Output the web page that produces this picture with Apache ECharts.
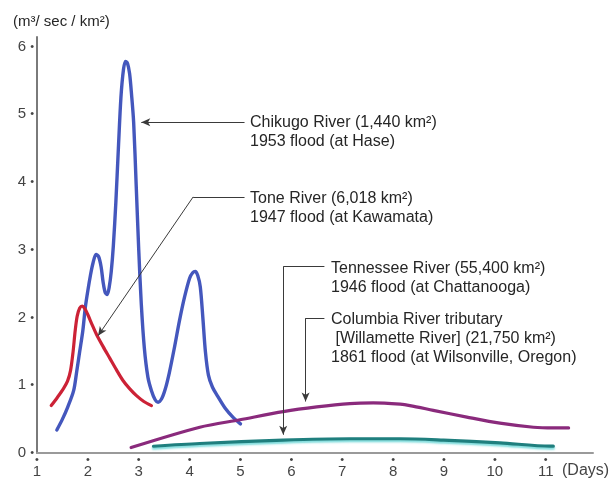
<!DOCTYPE html>
<html>
<head>
<meta charset="utf-8">
<script src="https://cdn.jsdelivr.net/npm/echarts@6/dist/echarts.min.js"></script>
<style>
  html, body { margin: 0; padding: 0; background: #ffffff; }
  #chart { width: 610px; height: 479px; }
</style>
</head>
<body>
<div id="chart"></div>
<script>
// Specific discharge (m³/sec/km²) against elapsed days for four floods.

// Chikugo River (1,440 km²), 1953 flood at Hase
const chikugoDays = [1.39, 1.50, 1.60, 1.72, 1.78, 1.84, 1.90, 1.95, 2.00, 2.05, 2.10, 2.16, 2.21, 2.26, 2.30, 2.34, 2.38, 2.42, 2.46, 2.50, 2.55, 2.60, 2.65, 2.70, 2.74, 2.78, 2.82, 2.86, 2.90, 2.95, 3.00, 3.05, 3.11, 3.18, 3.25, 3.32, 3.38, 3.45, 3.52, 3.60, 3.70, 3.80, 3.90, 4.00, 4.06, 4.11, 4.16, 4.21, 4.26, 4.31, 4.37, 4.45, 4.55, 4.70, 4.85, 5.00];
const chikugoFlow = [0.34, 0.50, 0.67, 0.92, 1.20, 1.50, 1.80, 2.15, 2.40, 2.62, 2.80, 2.93, 2.90, 2.75, 2.52, 2.37, 2.34, 2.45, 2.68, 3.05, 3.70, 4.50, 5.25, 5.66, 5.78, 5.75, 5.60, 5.28, 4.88, 3.95, 3.00, 2.20, 1.55, 1.12, 0.92, 0.79, 0.75, 0.80, 0.94, 1.18, 1.55, 1.95, 2.30, 2.58, 2.66, 2.68, 2.62, 2.45, 2.00, 1.50, 1.15, 0.97, 0.84, 0.66, 0.53, 0.43];

// Tone River (6,018 km²), 1947 flood at Kawamata
const toneDays = [1.28, 1.40, 1.52, 1.60, 1.66, 1.71, 1.75, 1.79, 1.84, 1.89, 1.94, 2.00, 2.08, 2.17, 2.30, 2.43, 2.56, 2.69, 2.82, 2.95, 3.10, 3.25];
const toneFlow = [0.70, 0.82, 0.95, 1.06, 1.22, 1.50, 1.80, 2.02, 2.14, 2.17, 2.13, 2.04, 1.90, 1.75, 1.57, 1.40, 1.23, 1.07, 0.95, 0.85, 0.76, 0.70];

// Columbia River tributary, Willamette River (21,750 km²), 1861 flood
const willametteDays = [2.85, 4.20, 4.99, 5.84, 6.50, 7.15, 7.61, 8.14, 8.33, 8.79, 9.45, 10.10, 10.76, 11.15, 11.45];
const willametteFlow = [0.08, 0.38, 0.49, 0.61, 0.68, 0.73, 0.74, 0.72, 0.70, 0.63, 0.53, 0.44, 0.38, 0.37, 0.37];

// Tennessee River (55,400 km²), 1946 flood at Chattanooga
const tennesseeDays = [3.29, 4.20, 5.84, 7.15, 8.14, 8.99, 10.10, 11.09, 11.15];
const tennesseeFlow = [0.10, 0.14, 0.19, 0.21, 0.21, 0.19, 0.15, 0.10, 0.10];

// Axis ticks
const dayTicks = [1, 2, 3, 4, 5, 6, 7, 8, 9, 10, 11];
const flowTicks = [0, 1, 2, 3, 4, 5, 6];

// Leader lines from each caption to its curve, in [day, flow] units
const chikugoLeader = [[5.08, 4.88], [3.05, 4.88]];
const toneLeader = [[5.08, 3.78], [4.07, 3.78], [2.20, 1.73]];
const tennesseeLeader = [[6.65, 2.75], [5.84, 2.75], [5.84, 0.27]];
const willametteLeader = [[6.65, 1.99], [6.28, 1.99], [6.28, 0.76]];

const zip = (xs, ys) => xs.map((x, i) => [x, ys[i]]);

// Turn a polyline into markLine segments; only the last one carries the arrowhead
function leaderSegments(points) {
  const segs = [];
  for (let i = 0; i < points.length - 1; i++) {
    const last = i === points.length - 2;
    segs.push([
      { coord: points[i], symbol: 'none' },
      { coord: points[i + 1], symbol: last ? 'arrow' : 'none', symbolSize: last ? [6, 9] : 0 }
    ]);
  }
  return segs;
}

const FONT = '"Liberation Sans", Arial, Helvetica, sans-serif';
const TEXT = '#262626';

const chart = echarts.init(document.getElementById('chart'), null, { renderer: 'canvas' });

const lineSeries = (name, days, flow, color, extra) => Object.assign({
  name,
  type: 'line',
  data: zip(days, flow),
  smooth: 0.3,
  showSymbol: false,
  symbol: 'none',
  silent: true,
  animation: false,
  lineStyle: { color, width: 3.2, cap: 'round', join: 'round' },
  z: 3
}, extra || {});

const leaderSeries = {
  type: 'line',
  data: [],
  silent: true,
  animation: false,
  markLine: {
    silent: true,
    animation: false,
    symbol: ['none', 'arrow'],
    label: { show: false },
    emphasis: { disabled: true },
    lineStyle: { color: '#3a3a3a', width: 1, type: 'solid' },
    data: [].concat(
      leaderSegments(chikugoLeader),
      leaderSegments(toneLeader),
      leaderSegments(tennesseeLeader),
      leaderSegments(willametteLeader)
    )
  },
  z: 5
};

const captionStyle = { fill: TEXT, font: '16px ' + FONT, lineHeight: 19 };

chart.setOption({
  backgroundColor: '#ffffff',
  animation: false,
  grid: { left: 37, right: 17, top: 37, bottom: 23, containLabel: false },
  xAxis: {
    type: 'value',
    min: 1,
    max: 11.93,
    interval: 1,
    splitLine: { show: false },
    axisTick: { show: false },
    axisLine: { show: true, onZero: false, lineStyle: { color: '#9a9a9a', width: 2 } },
    axisLabel: {
      margin: 3,
      color: '#444',
      fontFamily: FONT,
      fontSize: 16,
      showMaxLabel: false,
      formatter: v => dayTicks.includes(v) ? '{d|•}\n{n|' + v + '}' : '',
      rich: {
        d: { fontSize: 11, lineHeight: 8, color: '#444', fontFamily: FONT },
        n: { fontSize: 15, lineHeight: 15, color: '#444', fontFamily: FONT }
      }
    }
  },
  yAxis: {
    type: 'value',
    min: 0,
    max: 6.14,
    interval: 1,
    splitLine: { show: false },
    axisTick: { show: false },
    axisLine: { show: true, onZero: false, lineStyle: { color: '#7a7a7a', width: 2 } },
    axisLabel: {
      margin: 3,
      color: '#444',
      fontFamily: FONT,
      fontSize: 15,
      showMaxLabel: false,
      formatter: v => flowTicks.includes(v) ? '{n|' + v + '} {d|•}' : '',
      rich: {
        d: { fontSize: 11, color: '#444', fontFamily: FONT },
        n: { fontSize: 15, color: '#444', fontFamily: FONT }
      }
    }
  },
  series: [
    lineSeries('Chikugo River', chikugoDays, chikugoFlow, '#4457bd', { lineStyle: { color: '#4457bd', width: 3.4, cap: 'round', join: 'round' } }),
    lineSeries('Tone River', toneDays, toneFlow, '#cc2236'),
    lineSeries('Columbia River tributary', willametteDays, willametteFlow, '#8a2a7c'),
    lineSeries('Tennessee River', tennesseeDays, tennesseeFlow, '#1f7f7e', {
      lineStyle: {
        color: '#1f7f7e', width: 3.2, cap: 'round',
        shadowColor: 'rgba(110, 215, 215, 0.9)', shadowBlur: 2, shadowOffsetY: 2
      }
    }),
    leaderSeries
  ],
  graphic: [
    { type: 'text', left: 13, top: 14, silent: true,
      style: { text: '(m³/ sec / km²)', fill: TEXT, font: '15px ' + FONT } },
    { type: 'text', left: 562, top: 463, silent: true,
      style: { text: '(Days)', fill: '#444', font: '16px ' + FONT } },
    { type: 'text', left: 250, top: 113, silent: true,
      style: Object.assign({ text: 'Chikugo River (1,440 km²)\n1953 flood (at Hase)' }, captionStyle) },
    { type: 'text', left: 250, top: 189, silent: true,
      style: Object.assign({ text: 'Tone River (6,018 km²)\n1947 flood (at Kawamata)' }, captionStyle) },
    { type: 'text', left: 331, top: 259, silent: true,
      style: Object.assign({ text: 'Tennessee River (55,400 km²)\n1946 flood (at Chattanooga)' }, captionStyle) },
    { type: 'text', left: 331, top: 310, silent: true,
      style: Object.assign({ text: 'Columbia River tributary\n [Willamette River] (21,750 km²)\n1861 flood (at Wilsonville, Oregon)' }, captionStyle) }
  ]
});
</script>
</body>
</html>
